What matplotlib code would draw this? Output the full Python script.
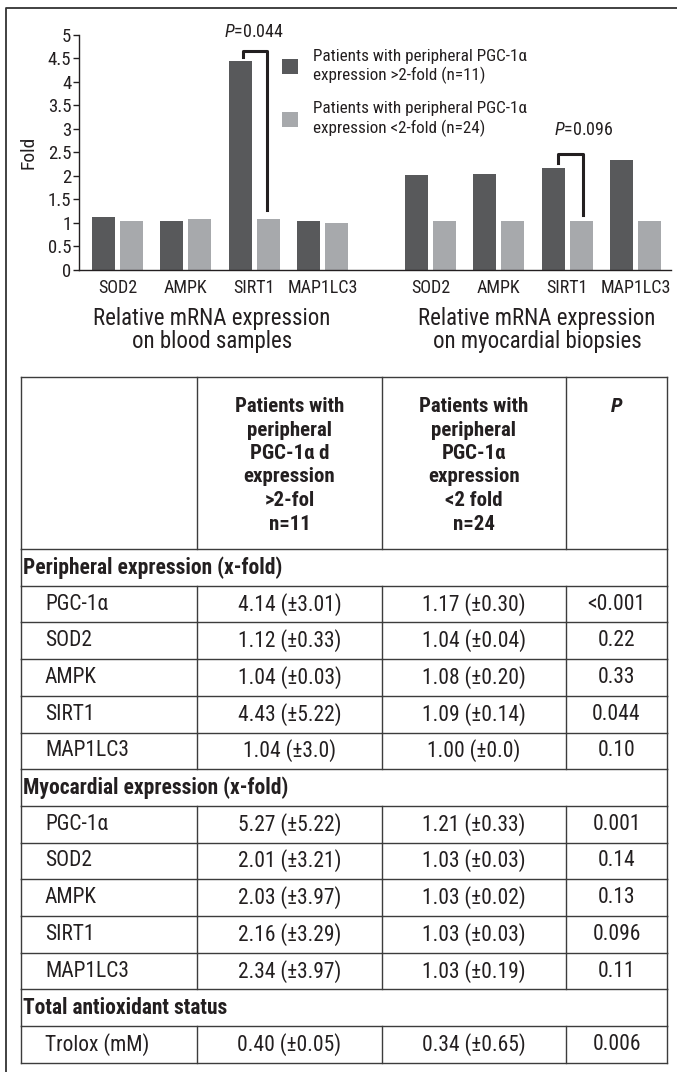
import numpy as np
import matplotlib
matplotlib.use("Agg")
import matplotlib.pyplot as plt
from matplotlib import font_manager

# pick a condensed sans if one is installed
names = {f.name for f in font_manager.fontManager.ttflist}
font = "DejaVu Sans"
for cand in ["Liberation Sans Narrow", "Roboto Condensed", "Open Sans Condensed", "Liberation Sans"]:
    if cand in names:
        font = cand
        break
plt.rcParams["font.family"] = [font, "DejaVu Sans"]
plt.rcParams["mathtext.fontset"] = "custom"
plt.rcParams["mathtext.rm"] = font
plt.rcParams["mathtext.it"] = font + ":italic"

# data
genes = ["SOD2", "AMPK", "SIRT1", "MAP1LC3"]
blood_high = [1.12, 1.04, 4.43, 1.04]
blood_low = [1.04, 1.08, 1.09, 1.00]
myo_high = [2.01, 2.03, 2.16, 2.34]
myo_low = [1.03, 1.03, 1.03, 1.03]
label_high = "Patients with peripheral PGC-1\u03b1\nexpression >2-fold (n=11)"
label_low = "Patients with peripheral PGC-1\u03b1\nexpression <2-fold (n=24)"

header = ["", "Patients with\nperipheral\nPGC-1\u03b1 d\nexpression\n>2-fol\nn=11",
          "Patients with\nperipheral\nPGC-1\u03b1\nexpression\n<2 fold\nn=24", "P"]
sections = ["Peripheral expression (x-fold)", "Myocardial expression (x-fold)", "Total antioxidant status"]
row_names = [["PGC-1\u03b1", "SOD2", "AMPK", "SIRT1", "MAP1LC3"],
             ["PGC-1\u03b1", "SOD2", "AMPK", "SIRT1", "MAP1LC3"],
             ["Trolox (mM)"]]
col_high = [["4.14 (\u00b13.01)", "1.12 (\u00b10.33)", "1.04 (\u00b10.03)", "4.43 (\u00b15.22)", "1.04 (\u00b13.0)"],
            ["5.27 (\u00b15.22)", "2.01 (\u00b13.21)", "2.03 (\u00b13.97)", "2.16 (\u00b13.29)", "2.34 (\u00b13.97)"],
            ["0.40 (\u00b10.05)"]]
col_low = [["1.17 (\u00b10.30)", "1.04 (\u00b10.04)", "1.08 (\u00b10.20)", "1.09 (\u00b10.14)", "1.00 (\u00b10.0)"],
           ["1.21 (\u00b10.33)", "1.03 (\u00b10.03)", "1.03 (\u00b10.02)", "1.03 (\u00b10.03)", "1.03 (\u00b10.19)"],
           ["0.34 (\u00b10.65)"]]
col_p = [["<0.001", "0.22", "0.33", "0.044", "0.10"],
         ["0.001", "0.14", "0.13", "0.096", "0.11"],
         ["0.006"]]

dark = "#58595b"
light = "#a7a9ac"
ink = "#231f20"
W, H = 677, 1072

fig = plt.figure(figsize=(W / 100, H / 100), dpi=100)
fig.patch.set_facecolor("white")

# ---- bar chart ----
ax = fig.add_axes([79 / W, 1 - 270 / H, 592 / W, 235.5 / H])
xl = np.arange(len(genes))
xr = xl + 4.58
bw = 0.337
off = 0.205
b1 = ax.bar(xl - off, blood_high, bw, color=dark, label=label_high)
b2 = ax.bar(xl + off, blood_low, bw, color=light, label=label_low)
ax.bar(xr - off, myo_high, bw, color=dark)
ax.bar(xr + off, myo_low, bw, color=light)

ax.set_xlim(-0.564, 8.10)
ax.set_ylim(0, 5)
yt = np.arange(0, 5.01, 0.5)
ax.set_yticks(yt)
ax.set_yticklabels([f"{v:g}" for v in yt])
ax.set_xticks(np.concatenate([xl, xr]))
ax.set_xticklabels(genes + genes)
ax.tick_params(axis="x", length=0, pad=6.5, labelsize=13, labelcolor=ink)
ax.tick_params(axis="y", length=4, width=1, pad=1.5, labelsize=13.5, labelcolor=ink, color=ink)
for s in ["top", "right"]:
    ax.spines[s].set_visible(False)
for s in ["left", "bottom"]:
    ax.spines[s].set_color(ink)
    ax.spines[s].set_linewidth(1)

ax.text(-0.0853, 0.5, "Fold", transform=ax.transAxes, rotation=90,
        ha="center", va="center", fontsize=14, color=ink)

# significance brackets
ax.plot([1.837, 1.837, 2.19, 2.19], [4.52, 4.65, 4.65, 1.27], color=ink, lw=2.2, clip_on=False)
ax.plot([6.45, 6.45, 6.815, 6.815], [2.27, 2.46, 2.46, 1.17], color=ink, lw=2.2, clip_on=False)
ax.text(2.0, 5.05, r"$\mathit{P}$=0.044", ha="center", va="center", fontsize=13, color=ink)
ax.text(6.83, 2.97, r"$\mathit{P}$=0.096", ha="center", va="center", fontsize=13, color=ink)

leg = ax.legend(handles=[b1, b2], loc="upper left", bbox_to_anchor=(0.3424, 0.94),
                frameon=False, borderpad=0, borderaxespad=0, fontsize=12.3,
                handlelength=0.94, handleheight=0.94, handletextpad=0.88, labelspacing=1.0)
for t in leg.get_texts():
    t.set_linespacing(1.25)
    t.set_color(ink)

fig.text(212 / W, 1 - 330 / H, "Relative mRNA expression\non blood samples",
         ha="center", va="center", fontsize=16.5, color=ink, linespacing=1.05)
fig.text(537 / W, 1 - 330 / H, "Relative mRNA expression\non myocardial biopsies",
         ha="center", va="center", fontsize=16.5, color=ink, linespacing=1.05)

# ---- table (pixel coordinates) ----
tax = fig.add_axes([0, 0, 1, 1])
tax.set_xlim(0, W)
tax.set_ylim(H, 0)
tax.axis("off")

# outer frame
tax.plot([6, 6, W + 5], [H + 5, 8, 8], color="#333333", lw=1.3, clip_on=False)

lc = "#3c3c3c"
lw = 1.0
cols = [21, 197, 382, 566, 667]
top, hbot, rh = 377, 549, 36.7

tax.plot([cols[0], cols[-1]], [top, top], color=lc, lw=lw)
for c in cols:
    tax.plot([c, c], [top, hbot], color=lc, lw=lw)
tax.plot([cols[0], cols[-1]], [hbot, hbot], color=lc, lw=lw)

hx = [(cols[i] + cols[i + 1]) / 2 for i in range(4)]
for i in (1, 2):
    tax.text(hx[i], 397, header[i], ha="center", va="top", fontsize=15,
             fontweight="bold", color=ink, linespacing=1.3)
tax.text(hx[3], 397, header[3], ha="center", va="top", fontsize=15,
         fontweight="bold", fontstyle="italic", color=ink)

fs = 15.5
y = hbot
for k, sec in enumerate(sections):
    # section row
    tax.text(23, y + rh / 2, sec, ha="left", va="center", fontsize=fs,
             fontweight="bold", color=ink)
    tax.plot([cols[0], cols[0]], [y, y + rh], color=lc, lw=lw)
    tax.plot([cols[-1], cols[-1]], [y, y + rh], color=lc, lw=lw)
    y += rh
    tax.plot([cols[0], cols[-1]], [y, y], color=lc, lw=lw)
    for j, name in enumerate(row_names[k]):
        yc = y + rh / 2
        tax.text(45, yc, name, ha="left", va="center", fontsize=fs, color=ink)
        tax.text(hx[1], yc, col_high[k][j], ha="center", va="center", fontsize=fs, color=ink)
        tax.text(hx[2], yc, col_low[k][j], ha="center", va="center", fontsize=fs, color=ink)
        tax.text(hx[3], yc, col_p[k][j], ha="center", va="center", fontsize=fs, color=ink)
        for c in cols:
            tax.plot([c, c], [y, y + rh], color=lc, lw=lw)
        y += rh
        tax.plot([cols[0], cols[-1]], [y, y], color=lc, lw=lw)

fig.savefig("out.png", dpi=100, facecolor="white")
